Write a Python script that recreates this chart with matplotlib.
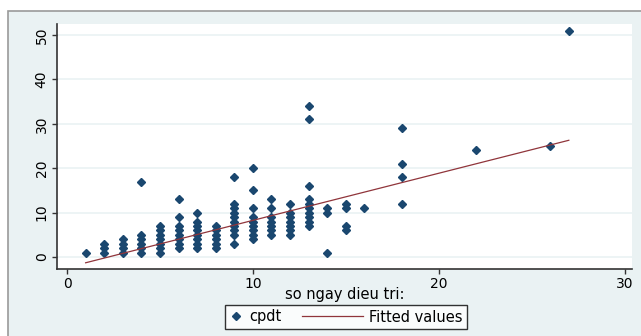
import numpy as np
import matplotlib
matplotlib.use("Agg")
import matplotlib.pyplot as plt
from matplotlib.patches import Rectangle
from matplotlib.legend_handler import HandlerLine2D

plt.rcParams["font.family"] = ["DejaVu Sans"]

# so ngay dieu tri (x) -> cpdt values observed at that x
so_ngay = [1, 2, 3, 4, 5, 6, 7, 8, 9, 10, 11, 12, 13, 14, 15, 16, 18, 22, 26, 27]
cpdt_vals = [
    [1],
    [1, 2, 3],
    [1, 2, 3, 4],
    [1, 2, 3, 4, 5, 17],
    [1, 2, 3, 4, 5, 6, 7],
    [2, 3, 4, 5, 6, 7, 9, 13],
    [2, 3, 4, 5, 6, 7, 8, 10],
    [2, 3, 4, 5, 6, 7],
    [3, 5, 6, 7, 8, 9, 10, 11, 12, 18],
    [4, 5, 6, 7, 8, 9, 11, 15, 20],
    [5, 6, 7, 8, 9, 11, 13],
    [5, 6, 7, 8, 9, 10, 12],
    [7, 8, 9, 10, 11, 12, 13, 16, 31, 34],
    [1, 10, 11],
    [6, 7, 11, 12],
    [11],
    [12, 18, 21, 29],
    [24],
    [25],
    [51],
]

fit_intercept = -2.36
fit_slope = 1.0615

x = np.array([xi for xi, ys in zip(so_ngay, cpdt_vals) for _ in ys], dtype=float)
y = np.array([v for ys in cpdt_vals for v in ys], dtype=float)

xs = np.array([x.min(), x.max()])
ys_fit = fit_intercept + fit_slope * xs

navy = "#1a476f"
maroon = "#90353b"
bg = "#eaf2f3"


class LongLine(HandlerLine2D):
    # line handle that reaches further to the left than the handle box
    def create_artists(self, legend, orig_handle, xdescent, ydescent, width,
                       height, fontsize, trans):
        ext = 3.2 * width
        return super().create_artists(legend, orig_handle, xdescent + ext, ydescent,
                                      width + ext, height, fontsize, trans)


fig = plt.figure(figsize=(6.41, 3.36), dpi=100, facecolor="white")
fig.patches.append(Rectangle((8 / 641, -0.01), 1.0, (336 - 11) / 336 + 0.01,
                             transform=fig.transFigure, facecolor=bg,
                             edgecolor="#9a9a9a", linewidth=1.2, zorder=-10))

ax = fig.add_axes([57 / 641, 67 / 336, 575 / 641, 245 / 336])
ax.set_facecolor("white")
pts, = ax.plot(x, y, linestyle="none", marker="D", markersize=3.8, color=navy, label="cpdt")
fit, = ax.plot(xs, ys_fit, color=maroon, linewidth=0.9, label="Fitted values")

ax.set_xlim(-0.54, 30.4)
ax.set_ylim(-2.7, 52.5)
ax.set_xticks([0, 10, 20, 30])
ax.set_yticks([0, 10, 20, 30, 40, 50])
ax.yaxis.grid(True, color=bg, linewidth=1.2)
ax.set_axisbelow(True)
for s in ["top", "right"]:
    ax.spines[s].set_visible(False)
for s in ["left", "bottom"]:
    ax.spines[s].set_color("#333333")
    ax.spines[s].set_linewidth(1.2)
ax.tick_params(direction="out", length=3.5, width=1, color="#333333", labelsize=10,
               pad=2.5)
for lab in ax.get_yticklabels():
    lab.set_rotation(90)
    lab.set_va("center")
ax.set_xlabel("so ngay dieu tri:", fontsize=10.5, labelpad=-3)

leg = fig.legend(handles=[pts, fit], loc="center",
                 bbox_to_anchor=(346 / 641, (336 - 317) / 336), ncol=2,
                 frameon=True, fancybox=False, fontsize=10.5, handlelength=1.0,
                 columnspacing=4.6, borderpad=0.3, handletextpad=0.4,
                 handler_map={fit: LongLine()})
leg.get_frame().set_edgecolor("black")
leg.get_frame().set_linewidth(1)

fig.savefig("out.png", dpi=100, facecolor=fig.get_facecolor())
